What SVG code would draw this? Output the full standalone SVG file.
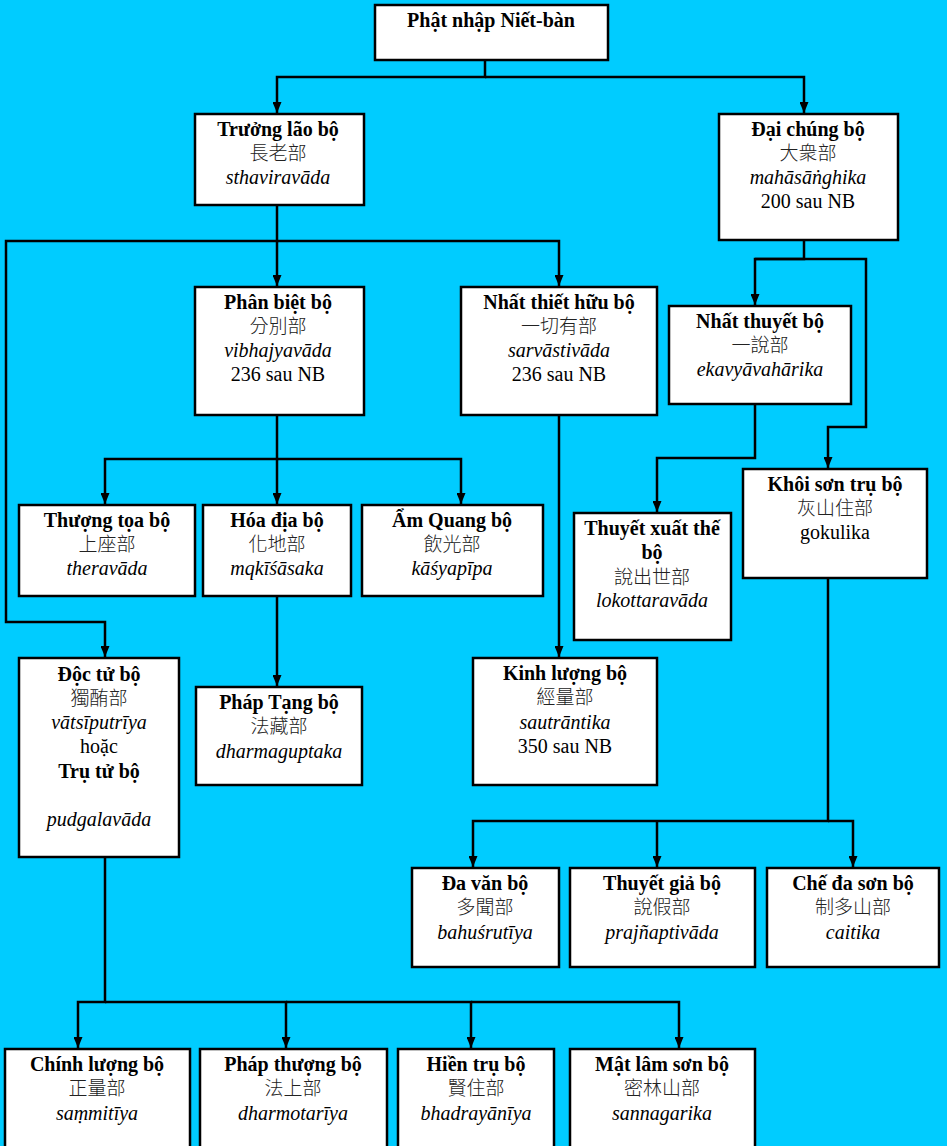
<svg xmlns="http://www.w3.org/2000/svg" width="947" height="1146" viewBox="0 0 947 1146">
<style>
.bg{fill:#00CCFF}
.box{fill:#fff;stroke:#000;stroke-width:2.5}
text{font-family:"Liberation Serif","Times New Roman",serif;font-size:20px;text-anchor:middle;fill:#000}
.b{font-weight:bold}
.i{font-style:italic}
.c{font-family:"Noto Sans CJK TC","Noto Sans CJK SC",sans-serif;font-size:19px;font-weight:300;fill:#222}
.ln{fill:none;stroke:#000;stroke-width:2.5}
</style>
<defs>
<marker id="ah" viewBox="0 0 10 10" refX="10" refY="5" markerWidth="11" markerHeight="9" markerUnits="userSpaceOnUse" orient="auto" preserveAspectRatio="none"><path d="M0,0 L10,5 L0,10 z" fill="#000"/></marker>
</defs>
<rect class="bg" x="0" y="0" width="947" height="1146"/>

<g id="connectors">
<path class="ln" d="M485,60 V77 H277 V113" marker-end="url(#ah)"/>
<path class="ln" d="M485,77 H804 V113" marker-end="url(#ah)"/>
<path class="ln" d="M277,205 V241 H6 V622 H105 V657" marker-end="url(#ah)"/>
<path class="ln" d="M277,241 V286" marker-end="url(#ah)"/>
<path class="ln" d="M277,241 H559 V286" marker-end="url(#ah)"/>
<path class="ln" d="M804,240 V259 H755 V305" marker-end="url(#ah)"/>
<path class="ln" d="M755,259 H866 V427 H828 V468" marker-end="url(#ah)"/>
<path class="ln" d="M277,415 V459 H105 V504" marker-end="url(#ah)"/>
<path class="ln" d="M277,459 V504" marker-end="url(#ah)"/>
<path class="ln" d="M277,459 H461 V504" marker-end="url(#ah)"/>
<path class="ln" d="M559,415 V657" marker-end="url(#ah)"/>
<path class="ln" d="M755,404 V458 H657 V512" marker-end="url(#ah)"/>
<path class="ln" d="M277,596 V686" marker-end="url(#ah)"/>
<path class="ln" d="M828,578 V821 H473 V867" marker-end="url(#ah)"/>
<path class="ln" d="M657,821 V867" marker-end="url(#ah)"/>
<path class="ln" d="M828,821 H853 V867" marker-end="url(#ah)"/>
<path class="ln" d="M105,857 V1002 H78 V1048" marker-end="url(#ah)"/>
<path class="ln" d="M105,1002 H286 V1048" marker-end="url(#ah)"/>
<path class="ln" d="M286,1002 H471 V1048" marker-end="url(#ah)"/>
<path class="ln" d="M471,1002 H679 V1048" marker-end="url(#ah)"/>
</g>

<g id="n-root"><rect class="box" x="375" y="5" width="233" height="55"/>
<text class="b" x="491" y="27">Phật nhập Niết-bàn</text></g>

<g id="n-truonglao"><rect class="box" x="195" y="114" width="169" height="91"/>
<text class="b" x="278" y="135.5">Trưởng lão bộ</text>
<text class="c" x="278" y="159.8">長老部</text>
<text class="i" x="278" y="184.1">sthaviravāda</text></g>

<g id="n-daichung"><rect class="box" x="719" y="114" width="179" height="126"/>
<text class="b" x="808" y="135.5">Đại chúng bộ</text>
<text class="c" x="808" y="159.8">大衆部</text>
<text class="i" x="808" y="184.1">mahāsāṅghika</text>
<text x="808" y="208.4">200 sau NB</text></g>

<g id="n-phanbiet"><rect class="box" x="195" y="287" width="169" height="128"/>
<text class="b" x="278" y="308.5">Phân biệt bộ</text>
<text class="c" x="278" y="332.8">分別部</text>
<text class="i" x="278" y="357.1">vibhajyavāda</text>
<text x="278" y="381.4">236 sau NB</text></g>

<g id="n-nhatthiet"><rect class="box" x="461" y="287" width="196" height="128"/>
<text class="b" x="559" y="308.5">Nhất thiết hữu bộ</text>
<text class="c" x="559" y="332.8">一切有部</text>
<text class="i" x="559" y="357.1">sarvāstivāda</text>
<text x="559" y="381.4">236 sau NB</text></g>

<g id="n-nhatthuyet"><rect class="box" x="669" y="306" width="182" height="98"/>
<text class="b" x="760" y="327.5">Nhất thuyết bộ</text>
<text class="c" x="760" y="351.8">一說部</text>
<text class="i" x="760" y="376.1">ekavyāvahārika</text></g>

<g id="n-thuongtoa"><rect class="box" x="19" y="505" width="176" height="91"/>
<text class="b" x="107" y="526.5">Thượng tọa bộ</text>
<text class="c" x="107" y="550.8">上座部</text>
<text class="i" x="107" y="575.1">theravāda</text></g>

<g id="n-hoadia"><rect class="box" x="203" y="505" width="148" height="91"/>
<text class="b" x="277" y="526.5">Hóa địa bộ</text>
<text class="c" x="277" y="550.8">化地部</text>
<text class="i" x="277" y="575.1">mqkīśāsaka</text></g>

<g id="n-amquang"><rect class="box" x="362" y="505" width="181" height="91"/>
<text class="b" x="452" y="526.5">Ẩm Quang bộ</text>
<text class="c" x="452" y="550.8">飲光部</text>
<text class="i" x="452" y="575.1">kāśyapīpa</text></g>

<g id="n-thuyetxuat"><rect class="box" x="574" y="513" width="157" height="127"/>
<text class="b" x="652" y="534.5">Thuyết xuất thế</text>
<text class="b" x="652" y="558.8">bộ</text>
<text class="c" x="652" y="584">說出世部</text>
<text class="i" x="652" y="607.4">lokottaravāda</text></g>

<g id="n-khoison"><rect class="box" x="743" y="469" width="184" height="109"/>
<text class="b" x="835" y="490.5">Khôi sơn trụ bộ</text>
<text class="c" x="835" y="514.8">灰山住部</text>
<text x="835" y="539.1">gokulika</text></g>

<g id="n-doctu"><rect class="box" x="19" y="658" width="160" height="199"/>
<text class="b" x="99" y="680.5">Độc tử bộ</text>
<text class="c" x="99" y="704.8">獨酭部</text>
<text class="i" x="99" y="729.1">vātsīputrīya</text>
<text x="99" y="753.4">hoặc</text>
<text class="b" x="99" y="777.7">Trụ tử bộ</text>
<text class="i" x="99" y="826.3">pudgalavāda</text></g>

<g id="n-phaptang"><rect class="box" x="196" y="687" width="166" height="98"/>
<text class="b" x="279" y="709">Pháp Tạng bộ</text>
<text class="c" x="279" y="733.3">法藏部</text>
<text class="i" x="279" y="757.6">dharmaguptaka</text></g>

<g id="n-kinhluong"><rect class="box" x="473" y="658" width="184" height="127"/>
<text class="b" x="565" y="680">Kinh lượng bộ</text>
<text class="c" x="565" y="704.3">經量部</text>
<text class="i" x="565" y="728.6">sautrāntika</text>
<text x="565" y="752.9">350 sau NB</text></g>

<g id="n-davan"><rect class="box" x="412" y="868" width="147" height="99"/>
<text class="b" x="485" y="890">Đa văn bộ</text>
<text class="c" x="485" y="914.3">多聞部</text>
<text class="i" x="485" y="938.6">bahuśrutīya</text></g>

<g id="n-thuyetgia"><rect class="box" x="570" y="868" width="185" height="99"/>
<text class="b" x="662" y="890">Thuyết giả bộ</text>
<text class="c" x="662" y="914.3">說假部</text>
<text class="i" x="662" y="938.6">prajñaptivāda</text></g>

<g id="n-chedason"><rect class="box" x="767" y="868" width="172" height="99"/>
<text class="b" x="853" y="890">Chế đa sơn bộ</text>
<text class="c" x="853" y="914.3">制多山部</text>
<text class="i" x="853" y="938.6">caitika</text></g>

<g id="n-chinhluong"><rect class="box" x="5" y="1049" width="185" height="120"/>
<text class="b" x="97" y="1071">Chính lượng bộ</text>
<text class="c" x="97" y="1095.3">正量部</text>
<text class="i" x="97" y="1119.6">saṃmitīya</text></g>

<g id="n-phapthuong"><rect class="box" x="200" y="1049" width="187" height="120"/>
<text class="b" x="293" y="1071">Pháp thượng bộ</text>
<text class="c" x="293" y="1095.3">法上部</text>
<text class="i" x="293" y="1119.6">dharmotarīya</text></g>

<g id="n-hientru"><rect class="box" x="398" y="1049" width="156" height="120"/>
<text class="b" x="476" y="1071">Hiền trụ bộ</text>
<text class="c" x="476" y="1095.3">賢住部</text>
<text class="i" x="476" y="1119.6">bhadrayānīya</text></g>

<g id="n-matlam"><rect class="box" x="570" y="1049" width="185" height="120"/>
<text class="b" x="662" y="1071">Mật lâm sơn bộ</text>
<text class="c" x="662" y="1095.3">密林山部</text>
<text class="i" x="662" y="1119.6">sannagarika</text></g>
</svg>
